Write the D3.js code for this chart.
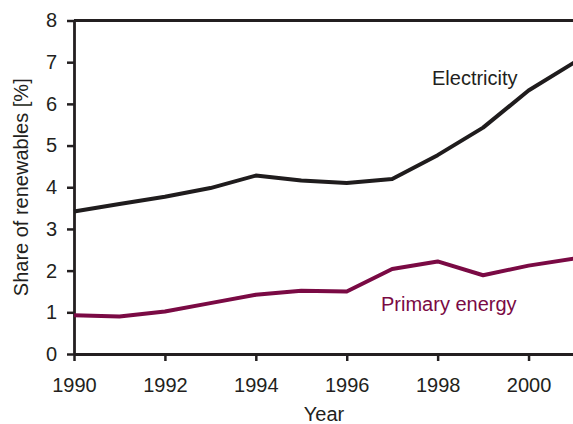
<!DOCTYPE html>
<html>
<head>
<meta charset="utf-8">
<script src="https://cdn.jsdelivr.net/npm/d3@7"></script>
<style>
  html, body { margin: 0; padding: 0; background: #fff; }
  svg { display: block; }
  text { font-family: "Liberation Sans", Arial, Helvetica, sans-serif; }
</style>
</head>
<body>
<svg id="chart" width="573" height="424"></svg>
<script>
// Share of renewables in German electricity and primary energy, 1990-2001
const years = [1990, 1991, 1992, 1993, 1994, 1995, 1996, 1997, 1998, 1999, 2000, 2001];
const electricity = [3.42, 3.60, 3.77, 3.98, 4.28, 4.16, 4.10, 4.20, 4.77, 5.43, 6.32, 6.99];
const primaryEnergy = [0.93, 0.90, 1.02, 1.22, 1.42, 1.52, 1.50, 2.04, 2.22, 1.89, 2.12, 2.29];
const xTicks = [1990, 1992, 1994, 1996, 1998, 2000];
const yTicks = [0, 1, 2, 3, 4, 5, 6, 7, 8];

const W = 573, H = 424;
const margin = { left: 74, right: -1, top: 20.5, bottom: 70 };
const svg = d3.select("#chart");

const x = d3.scaleLinear().domain([1990, 2001]).range([margin.left, W - margin.right]);
const y = d3.scaleLinear().domain([0, 8]).range([H - margin.bottom, margin.top]);

const axisColor = "#231f20";
const fontSize = "20px";

// top frame line
svg.append("line")
  .attr("x1", x(1990)).attr("x2", x(2001) + 4)
  .attr("y1", y(8)).attr("y2", y(8))
  .attr("stroke", axisColor).attr("stroke-width", 2.8);

// y axis
const gy = svg.append("g")
  .attr("transform", `translate(${x(1990)},0)`)
  .call(d3.axisLeft(y).tickValues(yTicks).tickFormat(d3.format("d")).tickSize(7).tickPadding(10).tickSizeOuter(0));

// x axis
const gx = svg.append("g")
  .attr("transform", `translate(0,${y(0)})`)
  .call(d3.axisBottom(x).tickValues(xTicks).tickFormat(d3.format("d")).tickSize(7).tickPadding(17).tickSizeOuter(0));

[gx, gy].forEach(g => {
  g.select(".domain").attr("stroke", axisColor).attr("stroke-width", 2.8);
  g.selectAll(".tick line").attr("stroke", axisColor).attr("stroke-width", 2.5);
  g.selectAll(".tick text")
    .attr("fill", axisColor)
    .style("font-size", fontSize)
    .style("font-family", '"Liberation Sans", Arial, sans-serif');
});

// axis titles
svg.append("text")
  .attr("x", (x(1990) + x(2001)) / 2)
  .attr("y", 421)
  .attr("text-anchor", "middle")
  .attr("fill", axisColor)
  .style("font-size", fontSize)
  .text("Year");

svg.append("text")
  .attr("transform", `translate(28,${(y(0) + y(8)) / 2}) rotate(-90)`)
  .attr("text-anchor", "middle")
  .attr("fill", axisColor)
  .style("font-size", fontSize)
  .text("Share of renewables [%]");

// series lines
const line = d3.line().x((d, i) => x(years[i])).y(d => y(d));

svg.append("path")
  .datum(electricity)
  .attr("d", line)
  .attr("fill", "none")
  .attr("stroke", "#1f1c1d")
  .attr("stroke-width", 4)
  .attr("stroke-linejoin", "round");

svg.append("path")
  .datum(primaryEnergy)
  .attr("d", line)
  .attr("fill", "none")
  .attr("stroke", "#7a0a44")
  .attr("stroke-width", 4)
  .attr("stroke-linejoin", "round");

// series labels
svg.append("text")
  .attr("x", 432).attr("y", 85)
  .attr("fill", axisColor)
  .style("font-size", fontSize)
  .text("Electricity");

svg.append("text")
  .attr("x", 381).attr("y", 311)
  .attr("fill", "#7a0a44")
  .style("font-size", fontSize)
  .text("Primary energy");
</script>
</body>
</html>
